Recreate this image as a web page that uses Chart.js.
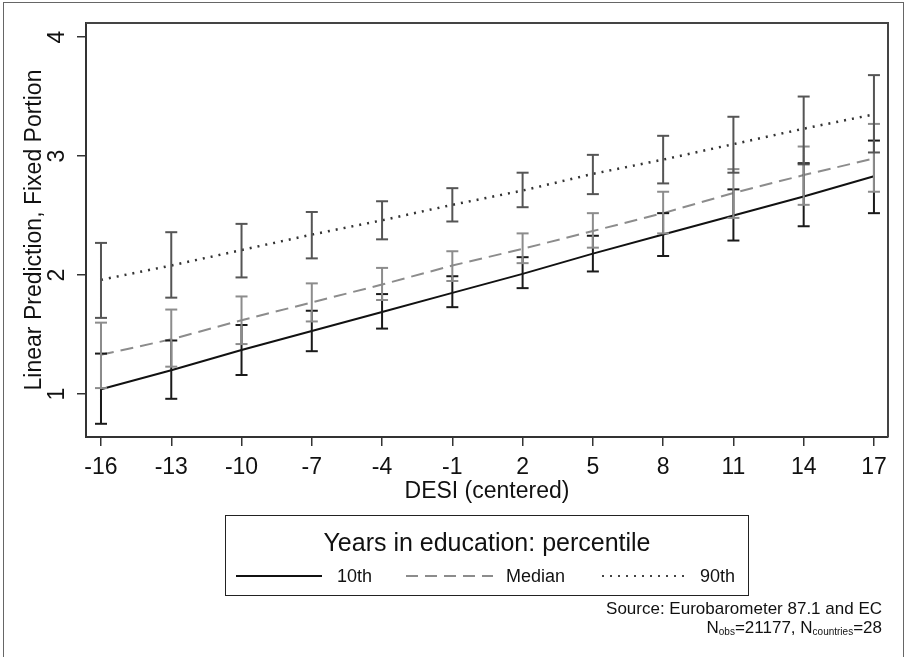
<!DOCTYPE html>
<html>
<head>
<meta charset="utf-8">
<script src="https://cdn.jsdelivr.net/npm/chart.js@4.4.1/dist/chart.umd.min.js"></script>
<style>
  body { margin: 0; background: #fff; font-family: "Liberation Sans", Arial, sans-serif; color: #111; }
  #wrap { position: relative; width: 908px; height: 657px; overflow: hidden; }
  #frame { position: absolute; left: 3px; top: 2px; width: 901px; height: 700px; border: 1.5px solid #666; box-sizing: border-box; }
  #chart { position: absolute; left: 0; top: 0; }
  #legend { position: absolute; left: 225px; top: 515px; width: 524px; height: 81px; border: 1.5px solid #222; box-sizing: border-box; }
  #legend .title { position: absolute; left: 0; right: 0; top: 12px; text-align: center; font-size: 25px; }
  #legend .item { position: absolute; top: 50px; font-size: 18px; line-height: 20px; }
  #legend svg { position: absolute; top: 58px; }
  #note { position: absolute; right: 26px; top: 599px; text-align: right; font-size: 17px; line-height: 19px; }
  #note sub { font-size: 10px; vertical-align: -2px; }
</style>
</head>
<body>
<div id="wrap">
  <div id="frame"></div>
  <canvas id="chart" width="908" height="657"></canvas>
  <div id="legend">
    <div class="title">Years in education: percentile</div>
    <svg style="left:10px" width="86" height="4"><line x1="0" y1="2" x2="86" y2="2" stroke="#111" stroke-width="2"/></svg>
    <div class="item" style="left:111px">10th</div>
    <svg style="left:180px" width="87" height="4"><line x1="0" y1="2" x2="87" y2="2" stroke="#8c8c8c" stroke-width="2" stroke-dasharray="12,7"/></svg>
    <div class="item" style="left:280px">Median</div>
    <svg style="left:376px" width="84" height="4"><line x1="0" y1="2" x2="84" y2="2" stroke="#444" stroke-width="2" stroke-dasharray="2,6"/></svg>
    <div class="item" style="left:474px">90th</div>
  </div>
  <div id="note">Source: Eurobarometer 87.1 and EC<br>N<sub>obs</sub>=21177, N<sub>countries</sub>=28</div>
</div>
<script>
// DESI values where predictions are shown
const xValues = [-16, -13, -10, -7, -4, -1, 2, 5, 8, 11, 14, 17];
const xTicks = [-16, -13, -10, -7, -4, -1, 2, 5, 8, 11, 14, 17];
const yTicks = [1, 2, 3, 4];

// 10th percentile
const p10 = [1.04, 1.20, 1.37, 1.53, 1.69, 1.85, 2.01, 2.18, 2.34, 2.50, 2.66, 2.83];
const p10Lo = [0.75, 0.96, 1.16, 1.36, 1.55, 1.73, 1.89, 2.03, 2.16, 2.29, 2.41, 2.52];
const p10Hi = [1.34, 1.45, 1.58, 1.70, 1.84, 1.99, 2.15, 2.33, 2.52, 2.72, 2.94, 3.13];

// median
const med = [1.33, 1.46, 1.62, 1.77, 1.92, 2.08, 2.22, 2.37, 2.52, 2.69, 2.84, 2.98];
const medLo = [1.05, 1.23, 1.42, 1.61, 1.79, 1.95, 2.10, 2.23, 2.35, 2.48, 2.59, 2.70];
const medHi = [1.60, 1.71, 1.82, 1.93, 2.06, 2.20, 2.35, 2.52, 2.70, 2.89, 3.08, 3.27];

// 90th percentile
const p90 = [1.96, 2.08, 2.21, 2.34, 2.46, 2.59, 2.71, 2.85, 2.97, 3.10, 3.23, 3.35];
const p90Lo = [1.64, 1.81, 1.98, 2.14, 2.30, 2.45, 2.57, 2.68, 2.77, 2.86, 2.93, 3.03];
const p90Hi = [2.27, 2.36, 2.43, 2.53, 2.62, 2.73, 2.86, 3.01, 3.17, 3.33, 3.50, 3.68];

const FONT = '"Liberation Sans", Arial, sans-serif';

function linePts(vals) {
  return xValues.map((x, i) => ({ x: x, y: vals[i] }));
}

// lo/hi pairs separated by a gap, so each pair is its own vertical segment
function whiskerPts(lo, hi) {
  const pts = [];
  xValues.forEach((x, i) => {
    pts.push({ x: x, y: lo[i] }, { x: x, y: hi[i] }, { x: x, y: null });
  });
  return pts;
}

function whisker(lo, hi, color) {
  return {
    data: whiskerPts(lo, hi),
    borderColor: color,
    borderWidth: 2,
    spanGaps: false,
    pointStyle: 'line',
    pointRadius: 6,
    pointBorderWidth: 2,
    pointBorderColor: color,
    pointHoverRadius: 6
  };
}

function mainLine(vals, color, dash, width) {
  return {
    data: linePts(vals),
    borderColor: color,
    borderWidth: width,
    borderDash: dash,
    pointRadius: 0,
    tension: 0
  };
}

// frame, rotated y labels and axis titles
const axisExtras = {
  id: 'axisExtras',
  afterDraw(chart) {
    const ctx = chart.ctx;
    const a = chart.chartArea;
    const y = chart.scales.y;
    ctx.save();
    ctx.strokeStyle = '#444';
    ctx.lineWidth = 2;
    ctx.beginPath();
    ctx.moveTo(a.left, a.top);
    ctx.lineTo(a.right, a.top);
    ctx.lineTo(a.right, a.bottom);
    ctx.stroke();

    ctx.fillStyle = '#111';
    ctx.textAlign = 'center';
    ctx.textBaseline = 'middle';
    ctx.font = '23px ' + FONT;
    yTicks.forEach(v => {
      ctx.save();
      ctx.translate(58, y.getPixelForValue(v));
      ctx.rotate(-Math.PI / 2);
      ctx.fillText(String(v), 0, 0);
      ctx.restore();
    });

    ctx.save();
    ctx.translate(35, (a.top + a.bottom) / 2);
    ctx.rotate(-Math.PI / 2);
    ctx.fillText('Linear Prediction, Fixed Portion', 0, 0);
    ctx.restore();

    ctx.fillText('DESI (centered)', (a.left + a.right) / 2, 492);
    ctx.restore();
  }
};

new Chart(document.getElementById('chart'), {
  type: 'line',
  data: {
    datasets: [
      whisker(p90Lo, p90Hi, '#555'),
      whisker(medLo, medHi, '#8c8c8c'),
      whisker(p10Lo, p10Hi, '#1a1a1a'),
      mainLine(p90, '#333', [2, 6], 2.5),
      mainLine(med, '#8c8c8c', [13, 7], 2),
      mainLine(p10, '#111', [], 2)
    ]
  },
  options: {
    responsive: false,
    animation: false,
    events: [],
    layout: { padding: { left: 0, top: 23, right: 20, bottom: 0 } },
    plugins: { legend: { display: false }, tooltip: { enabled: false } },
    scales: {
      x: {
        type: 'linear',
        min: -16.64,
        max: 17.6,
        afterBuildTicks: s => { s.ticks = xTicks.map(v => ({ value: v })); },
        afterFit: s => { s.height = 220; },
        ticks: { color: '#111', font: { family: FONT, size: 23 }, padding: 8, maxRotation: 0, autoSkip: false },
        grid: { drawOnChartArea: false, drawTicks: true, tickLength: 9, color: '#333', lineWidth: 1.5 },
        border: { display: true, color: '#333', width: 2 }
      },
      y: {
        type: 'linear',
        min: 0.639,
        max: 4.118,
        afterBuildTicks: s => { s.ticks = yTicks.map(v => ({ value: v })); },
        afterFit: s => { s.width = 86; },
        ticks: { display: false },
        grid: { drawOnChartArea: false, drawTicks: true, tickLength: 9, color: '#333', lineWidth: 1.5 },
        border: { display: true, color: '#333', width: 2 }
      }
    }
  },
  plugins: [axisExtras]
});
</script>
</body>
</html>
